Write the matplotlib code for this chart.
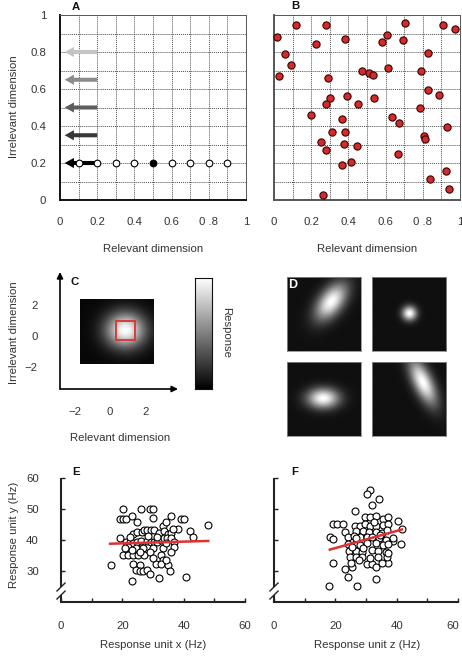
import numpy as np
import matplotlib
matplotlib.use('Agg')
import matplotlib.pyplot as plt
from matplotlib.patches import Rectangle
from matplotlib.transforms import ScaledTranslation

plt.rcParams['font.family'] = ['Liberation Sans', 'DejaVu Sans']
plt.rcParams['font.size'] = 8.2
plt.rcParams['text.color'] = '#333333'
plt.rcParams['xtick.color'] = '#333333'
plt.rcParams['ytick.color'] = '#333333'

W, H = 462, 656

# ---- panel A: probe stimuli and shifts along irrelevant dimension
arrow_y = [0.8, 0.65, 0.5, 0.35, 0.2]
arrow_colors = ['#c4c4c4', '#8c8c8c', '#5e5e5e', '#383838', '#000000']
probe_x = [0.1, 0.2, 0.3, 0.4, 0.6, 0.7, 0.8, 0.9]
probe_y = 0.2
target_x = 0.5
unit_ticks = [0, 0.2, 0.4, 0.6, 0.8, 1]
unit_xlabels = ['0', '0.2', '0.4', '0.6', '0 .8', '1']
unit_ylabels = ['0', '0.2', '0.4', '0.6', '0.8', '1']

# ---- panel B: random stimuli
b_x = [0.12, 0.278, 0.704, 0.91, 0.973, 0.018, 0.605, 0.384, 0.228, 0.583,
       0.691, 0.829, 0.059, 0.090, 0.027, 0.289, 0.474, 0.512, 0.530, 0.614,
       0.79, 0.829, 0.885, 0.302, 0.280, 0.395, 0.454, 0.537, 0.783, 0.197,
       0.366, 0.636, 0.670, 0.928, 0.311, 0.384, 0.808, 0.813, 0.250, 0.377,
       0.445, 0.280, 0.664, 0.366, 0.415, 0.925, 0.837, 0.943, 0.266]
b_y = [0.944, 0.946, 0.955, 0.946, 0.924, 0.881, 0.892, 0.870, 0.845, 0.856,
       0.865, 0.796, 0.789, 0.732, 0.668, 0.659, 0.695, 0.686, 0.677, 0.712,
       0.695, 0.596, 0.566, 0.550, 0.521, 0.562, 0.517, 0.551, 0.495, 0.458,
       0.440, 0.450, 0.416, 0.393, 0.369, 0.366, 0.346, 0.328, 0.315, 0.305,
       0.290, 0.272, 0.250, 0.191, 0.204, 0.157, 0.115, 0.058, 0.029]

# ---- panel C: tuning of one unit
c_center = (0.87, 0.35)
c_sigma = 0.78
c_extent = [-1.69, 2.48, -1.81, 2.32]
c_box = (0.34, -0.26, 1.07, 1.23)
c_ticks = [-2, 0, 2]
c_ticklabels = ['\u22122', '0', '2']

# ---- panel D: four example tuning functions (cx, cy, sigma major, sigma minor, angle deg)
d_units = [
    (0.60, 0.67, 0.20, 0.11, 53),
    (0.50, 0.51, 0.068, 0.068, 0),
    (0.49, 0.51, 0.15, 0.095, 0),
    (0.68, 0.73, 0.23, 0.09, 115),
]

# ---- panel E: unit x vs unit y
e_x = [20.1, 26.1, 29.0, 29.9, 29.9, 19.4, 20.3, 21.2, 23.0, 36.0,
       39.0, 40.1, 24.9, 48.0, 33.1, 34.2, 42.0, 38.0, 19.2, 43.1,
       23.6, 24.9, 26.3, 27.0, 28.1, 29.2, 30.3, 32.0, 33.5, 35.0,
       36.0, 36.6, 21.2, 22.5, 23.6, 24.9, 26.2, 27.9, 29.2, 30.3,
       31.4, 32.5, 33.5, 34.6, 35.9, 36.8, 37.0, 21.9, 24.4, 26.8,
       30.1, 33.3, 35.9, 20.3, 21.9, 23.6, 25.1, 27.0, 32.7, 33.1,
       16.3, 23.6, 25.9, 24.4, 25.7, 26.8, 27.9, 30.9, 32.7, 35.0,
       23.3, 29.0, 32.0, 35.5, 40.9, 22.5, 28.4, 31.4, 23.0, 25.7,
       29.0, 34.4, 30.1, 34.4, 20.8]
e_y = [50.0, 50.0, 50.0, 50.0, 47.0, 46.8, 46.8, 46.8, 47.8, 47.8,
       46.8, 46.8, 45.7, 44.8, 44.6, 45.7, 42.9, 43.5, 40.8, 40.9,
       41.8, 42.7, 42.7, 43.2, 43.2, 43.2, 43.2, 42.1, 42.9, 41.8,
       42.1, 43.5, 39.3, 39.5, 38.9, 39.3, 39.7, 39.7, 39.3, 39.3,
       39.5, 40.1, 40.8, 40.8, 40.5, 39.3, 37.7, 37.9, 37.5, 37.3,
       37.5, 37.3, 36.2, 35.2, 35.2, 35.2, 35.2, 35.2, 35.2, 33.5,
       31.9, 32.2, 31.9, 30.2, 30.0, 30.0, 30.2, 32.2, 32.2, 31.9,
       26.8, 28.9, 27.9, 30.0, 28.2, 41.1, 41.4, 41.1, 36.8, 36.2,
       36.2, 38.9, 34.1, 33.5, 37.5]
e_fit_x = [16.0, 48.0]
e_fit_y = [38.8, 39.7]

# ---- panel F: unit z vs unit y
f_x = [31.3, 30.4, 34.3, 32.1, 26.4, 29.6, 31.3, 33.4, 35.4, 37.2,
       40.3, 19.3, 20.6, 22.4, 26.4, 23.1, 41.6, 18.2, 19.3, 41.3,
       19.3, 18.0, 27.1, 33.4, 24.2, 23.1, 25.3, 30.2, 32.1, 33.4,
       37.2, 28.0, 29.6, 31.3, 33.4, 35.6, 37.2, 26.9, 28.9, 31.0,
       33.2, 35.1, 36.9, 24.2, 26.1, 28.2, 30.2, 32.1, 34.3, 36.5,
       38.7, 24.2, 26.4, 28.2, 30.4, 33.4, 35.6, 37.2, 24.5, 26.7,
       28.6, 32.1, 34.0, 36.5, 24.8, 26.7, 28.6, 31.3, 34.0, 36.7,
       25.0, 27.8, 35.1, 37.2, 38.9, 26.9, 32.6, 34.7, 29.1, 25.3]
f_y = [56.1, 54.8, 53.1, 51.3, 49.5, 47.3, 47.3, 47.7, 46.8, 47.3,
       46.2, 45.2, 45.2, 45.2, 44.5, 42.7, 43.4, 40.9, 40.3, 38.7,
       32.5, 25.2, 25.2, 27.3, 28.2, 30.5, 31.4, 32.3, 32.3, 31.4,
       32.5, 44.5, 45.2, 44.5, 44.5, 44.8, 45.2, 43.0, 43.0, 42.7,
       42.7, 42.4, 43.2, 40.9, 41.3, 41.1, 40.9, 41.1, 40.5, 40.0,
       39.8, 38.7, 38.7, 38.4, 38.9, 38.9, 38.4, 38.7, 36.6, 36.6,
       36.2, 36.8, 36.6, 36.2, 34.4, 34.4, 34.4, 34.1, 34.4, 34.6,
       32.7, 33.6, 32.5, 35.7, 40.5, 40.5, 45.9, 41.6, 37.3, 37.6]
f_fit_x = [18.2, 41.7]
f_fit_y = [36.9, 43.4]

resp_ticks = [0, 20, 40, 60]
resp_minor = [10, 30, 50]
resp_yticks = [30, 40, 50, 60]

fig = plt.figure(figsize=(W / 100, H / 100), dpi=100)


def px_axes(x0, y0, x1, y1):
    return fig.add_axes([x0 / W, 1 - y1 / H, (x1 - x0) / W, (y1 - y0) / H])


def label(x, y, s, **kw):
    fig.text(x / W, 1 - y / H, s, ha='center', va='center', **kw)


grid_pos = np.arange(0.1, 0.95, 0.1)


def unit_square(ax, spine_col, show_y):
    ax.set_xlim(0, 1)
    ax.set_ylim(0, 1)
    for g in grid_pos:
        ax.axvline(g, color='#505050', lw=0.7, ls=(0, (1, 1)), zorder=0)
        ax.axhline(g, color='#505050', lw=0.7, ls=(0, (1, 1)), zorder=0)
    for s in ['top', 'right']:
        ax.spines[s].set_color('#555555')
        ax.spines[s].set_linewidth(0.7)
        ax.spines[s].set_linestyle((0, (1, 1)))
    for s in ['left', 'bottom']:
        ax.spines[s].set_color(spine_col)
        ax.spines[s].set_linewidth(1.4)
    ax.set_xticks(unit_ticks)
    ax.set_xticklabels(unit_xlabels)
    ax.tick_params(axis='x', length=0, pad=12)
    if show_y:
        ax.set_yticks(unit_ticks)
        ax.set_yticklabels(unit_ylabels)
        ax.tick_params(axis='y', length=0, pad=10)
    else:
        ax.set_yticks([])


# A
axA = px_axes(60, 15, 246, 200)
unit_square(axA, '#111111', True)
for y, c in zip(arrow_y, arrow_colors):
    axA.arrow(0.2, y, -0.175, 0, width=0.022, head_width=0.055, head_length=0.05,
              length_includes_head=True, color=c, lw=0, zorder=3)
axA.plot(probe_x, [probe_y] * len(probe_x), 'o', mfc='white', mec='k', ms=4.8,
         mew=0.8, zorder=4, clip_on=False)
axA.plot([target_x], [probe_y], 'o', mfc='k', mec='k', ms=4.8, mew=0.8, zorder=4)
label(76, 7, 'A', fontweight='bold', color='#111111')
label(153, 249, 'Relevant dimension')
label(14, 107, 'Irrelevant dimension', rotation=90)

# B
axB = px_axes(274, 15, 460, 200)
unit_square(axB, '#555555', False)
axB.plot(b_x, b_y, 'o', mfc='#d22b2b', mec='#3a0000', ms=5.2, mew=0.8, zorder=4,
         clip_on=False)
label(295, 6, 'B', fontweight='bold', color='#111111')
label(367, 249, 'Relevant dimension')

# C
axC = px_axes(60, 272, 178, 389)
axC.set_xlim(-2.82, 3.83)
axC.set_ylim(-3.42, 4.13)
for s in axC.spines.values():
    s.set_visible(False)
gx = np.linspace(c_extent[0], c_extent[1], 200)
gy = np.linspace(c_extent[2], c_extent[3], 200)
GX, GY = np.meshgrid(gx, gy)
resp = np.exp(-((GX - c_center[0]) ** 2 + (GY - c_center[1]) ** 2) / (2 * c_sigma ** 2))
axC.imshow(0.03 + 0.97 * resp, extent=c_extent, origin='lower', cmap='gray',
           vmin=0, vmax=1, aspect='auto', interpolation='bilinear')
axC.add_patch(Rectangle(c_box[:2], c_box[2], c_box[3], fill=False,
                        edgecolor='#e03030', lw=1.3))
axC.annotate('', xy=(1, 0), xytext=(0, 0), xycoords='axes fraction',
             arrowprops=dict(arrowstyle='-|>', color='k', lw=1.2,
                             mutation_scale=9, shrinkA=0, shrinkB=0))
axC.annotate('', xy=(0, 1), xytext=(0, 0), xycoords='axes fraction',
             arrowprops=dict(arrowstyle='-|>', color='k', lw=1.2,
                             mutation_scale=9, shrinkA=0, shrinkB=0))
axC.set_xticks(c_ticks)
axC.set_xticklabels(c_ticklabels)
axC.set_yticks(c_ticks)
axC.set_yticklabels(c_ticklabels)
axC.tick_params(axis='x', length=0, pad=13)
axC.tick_params(axis='y', length=0, pad=16)
label(75, 282, 'C', fontweight='bold', color='#111111')
label(120, 438, 'Relevant dimension')
label(14, 333, 'Irrelevant dimension', rotation=90)

axCB = px_axes(195, 278, 212, 389)
axCB.imshow(np.linspace(1, 0, 256)[:, None], cmap='gray', aspect='auto',
            vmin=0, vmax=1)
axCB.set_xticks([])
axCB.set_yticks([])
for s in axCB.spines.values():
    s.set_linewidth(0.8)
    s.set_color('#111111')
label(226, 333, 'Response', rotation=270)

# D
d_boxes = [(287, 277, 361, 351), (372, 277, 446, 351),
           (287, 362, 361, 436), (372, 362, 446, 436)]
u = np.linspace(0, 1, 150)
UX, UY = np.meshgrid(u, u)
for box, (cx, cy, sa, sb, th) in zip(d_boxes, d_units):
    ax = px_axes(*box)
    t = np.deg2rad(th)
    dx, dy = UX - cx, UY - cy
    a = dx * np.cos(t) + dy * np.sin(t)
    b = -dx * np.sin(t) + dy * np.cos(t)
    img = np.exp(-0.5 * ((a / sa) ** 2 + (b / sb) ** 2))
    ax.imshow(0.06 + 0.94 * img, extent=[0, 1, 0, 1], origin='lower', cmap='gray',
              vmin=0, vmax=1, aspect='auto', interpolation='bilinear')
    ax.set_xticks([])
    ax.set_yticks([])
    for s in ax.spines.values():
        s.set_color('#8a8a8a')
        s.set_linewidth(0.6)
label(293, 285, 'D', fontweight='bold', color='white', fontsize=9)


# E and F
def resp_axes(ax, xs, ys, fx, fy, show_y):
    ax.set_xlim(0, 60)
    ax.set_ylim(20, 60)
    for s in ['top', 'right', 'left']:
        ax.spines[s].set_visible(False)
    ax.spines['bottom'].set_linewidth(1.5)
    ax.spines['bottom'].set_color('#222222')
    ax.plot([0, 0], [24.8, 60], color='#222222', lw=1.5, clip_on=False,
            solid_capstyle='butt')
    ax.plot([0, 0], [20, 22.3], color='#222222', lw=1.5, clip_on=False,
            solid_capstyle='butt')
    for c in [0.121, 0.056]:
        ax.plot([-0.022, 0.022], [c - 0.032, c + 0.032], color='#222222', lw=1.0,
                transform=ax.transAxes, clip_on=False)
    ax.set_xticks(resp_ticks)
    ax.set_xticks(resp_minor, minor=True)
    ax.tick_params(axis='x', which='both', direction='in', length=3, width=1,
                   pad=14, color='#222222')
    ax.set_yticks(resp_yticks)
    ax.tick_params(axis='y', direction='in', length=3, width=1, pad=16,
                   color='#222222', labelleft=show_y)
    ax.plot(xs, ys, 'o', mfc='white', mec='k', ms=5, mew=0.8, zorder=3)
    ax.plot(fx, fy, color='#e03030', lw=1.8, zorder=4)


axE = px_axes(61, 478, 245, 602)
resp_axes(axE, e_x, e_y, e_fit_x, e_fit_y, True)
label(76, 472, 'E', fontweight='bold', color='#111111')
label(153, 645, 'Response unit x (Hz)')
label(14, 535, 'Response unit y (Hz)', rotation=90)

axF = px_axes(274, 478, 458, 602)
resp_axes(axF, f_x, f_y, f_fit_x, f_fit_y, False)
# keep the last tick label inside the figure
last = axF.get_xticklabels()[-1]
last.set_transform(last.get_transform() + ScaledTranslation(-5 / 100, 0, fig.dpi_scale_trans))
label(295, 472, 'F', fontweight='bold', color='#111111')
label(367, 645, 'Response unit z (Hz)')

fig.savefig('out.png', dpi=100)
